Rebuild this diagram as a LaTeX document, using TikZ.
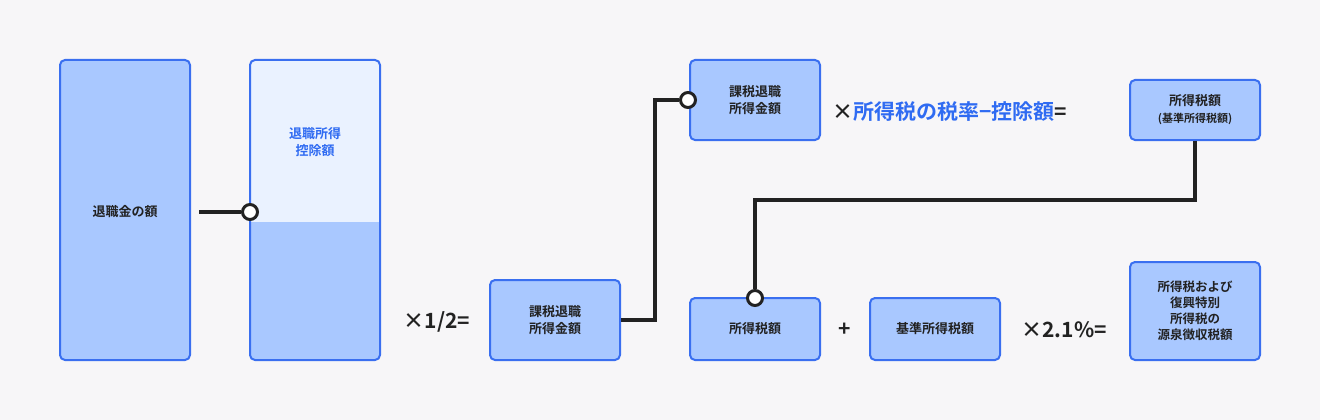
\documentclass[tikz,border=0pt]{standalone}
\usepackage{fontspec}
\newfontfamily\cjk{Noto Sans CJK JP Bold}
\definecolor{bg}{HTML}{F7F6F8}
\definecolor{bfill}{HTML}{A9C8FF}
\definecolor{bline}{HTML}{3A6FF0}
\definecolor{lfill}{HTML}{EAF2FF}
\definecolor{ink}{HTML}{222222}
\definecolor{tblue}{HTML}{2F6BF2}
\begin{document}
\begin{tikzpicture}[x=1pt,y=-1pt,
  box/.style={draw=bline,line width=2pt,fill=bfill,rounded corners=5pt},
  lbl/.style={font=\cjk\fontsize{13}{17}\selectfont,text=ink,align=center},
  conn/.style={draw=ink,line width=3.5pt},
  ring/.style={circle,draw=ink,line width=3pt,fill=white,minimum size=15pt,inner sep=0pt},
  op/.style={font=\cjk\fontsize{21}{24}\selectfont,text=ink}]
\fill[bg] (0,0) rectangle (1320,420);
\useasboundingbox (0,0) rectangle (1320,420);
% box1
\draw[box] (60,60) rectangle (190,360);
\node[lbl] (b1) at (125,212) {退職金の額};
% box2
\begin{scope}
\clip[rounded corners=5pt] (250,60) rectangle (380,360);
\fill[bfill] (250,60) rectangle (380,360);
\fill[lfill] (250,60) rectangle (380,222);
\end{scope}
\draw[draw=bline,line width=2pt,rounded corners=5pt] (250,60) rectangle (380,360);
\node[lbl,text=tblue] (b2t) at (315,142) {退職所得\\控除額};
\coordinate (b1r) at (199,212);
\node[ring] (r1) at (250,212) {};
\draw[conn] (b1r) -- (r1);
% box3
\draw[box] (490,280) rectangle (620,360);
\node[lbl] (b3) at (555,320) {課税退職\\所得金額};
\node[op] (half) at (437,322) {×1/2=};
% box4
\draw[box] (690,60) rectangle (820,140);
\node[lbl] (b4) at (755,100) {課税退職\\所得金額};
\node[ring] (r2) at (688,100) {};
\coordinate (b3r) at (621,320);
\draw[conn] (b3r) -- (655,320) -- (655,100) -- (r2);
\node[op,anchor=west,inner sep=0pt] (rate) at (832,112) {×\textcolor{tblue}{所得税の税率−控除額}=};
% box5
\draw[box] (1130,80) rectangle (1260,140);
\node[lbl] (b5) at (1195,110) {所得税額\\{\fontsize{11}{14}\selectfont (基準所得税額)}};
% box6
\draw[box] (690,298) rectangle (820,360);
\node[lbl] (b6) at (755,329) {所得税額};
\node[ring] (r3) at (755,298) {};
\coordinate (b5b) at (1195,141);
\draw[conn] (b5b) -- (1195,200) -- (755,200) -- (r3);
\node[op] (plus) at (845,330) {+};
% box7
\draw[box] (870,298) rectangle (1000,360);
\node[lbl] (b7) at (935,329) {基準所得税額};
\node[op] (pct) at (1064,330) {×2.1\%=};
% box8
\draw[box] (1130,262) rectangle (1260,360);
\node[lbl,font=\cjk\fontsize{12.5}{16}\selectfont] (b8) at (1195,311) {所得税および\\復興特別\\所得税の\\源泉徴収税額};
\end{tikzpicture}
\end{document}
